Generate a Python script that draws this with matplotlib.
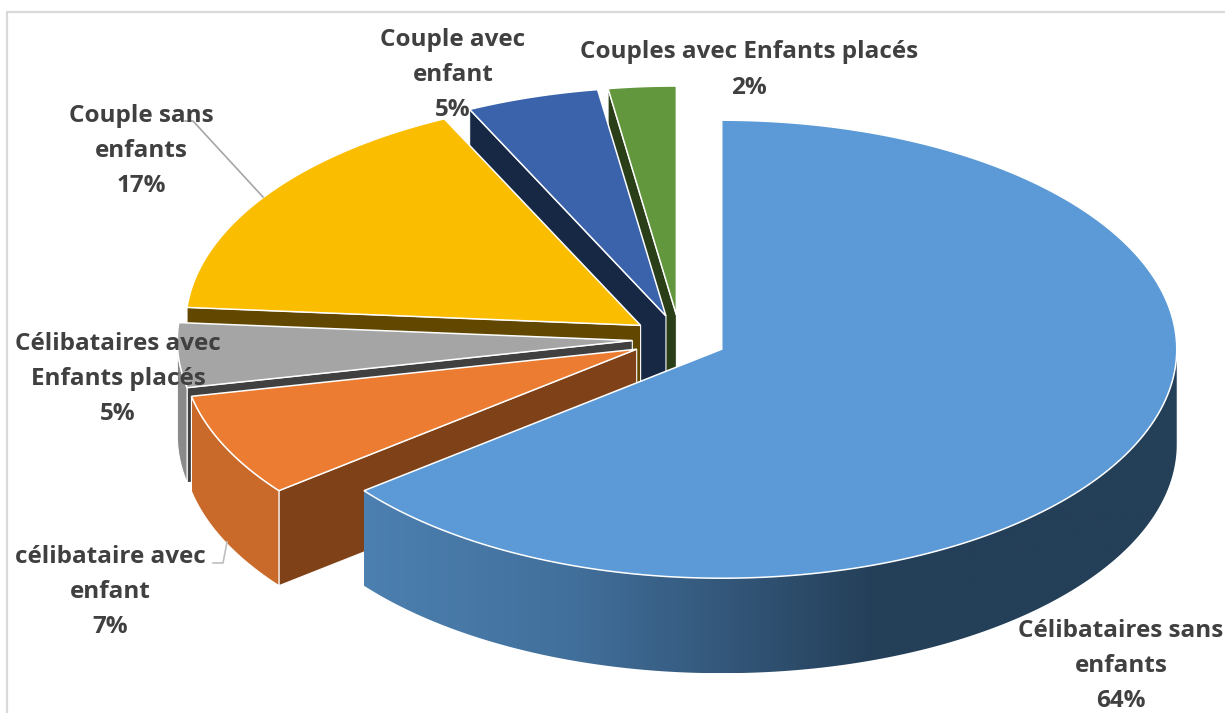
import numpy as np
import matplotlib
matplotlib.use('Agg')
import matplotlib.pyplot as plt
from matplotlib.patches import Polygon
from matplotlib.colors import LinearSegmentedColormap

# data, clockwise from the top of the pie
categories = ['Célibataires sans\nenfants', 'célibataire avec\nenfant', 'Célibataires avec\nEnfants placés',
              'Couple sans\nenfants', 'Couple avec\nenfant', 'Couples avec Enfants placés']
values = [64.4, 7.3, 4.55, 16.65, 4.7, 2.4]

top_colors = ['#5B9AD6', '#EB7C31', '#A5A5A5', '#FBBD00', '#3A63AB', '#62973E']
radial_colors = ['#243F58', '#7F4218', '#404040', '#614700', '#172845', '#2A3F18']
outer_colors = ['#243F58', '#C96A2A', '#8A8A8A', '#614700', '#172845', '#2A3F18']
label_pos = [(1121, 666), (110, 592), (118, 379), (141, 151), (453, 75), (749, 70)]
explode = [0.102, 0.105, 0.105, 0.105, 0.105, 0.105]

# pie geometry in pixels
cx, cy = 680, 339
rx, ry = 455, 229
depth = 95

plt.rcParams['font.family'] = ['Open Sans', 'DejaVu Sans']

fig = plt.figure(figsize=(12.25, 7.13), dpi=100)
ax = fig.add_axes([0, 0, 1, 1])
ax.set_xlim(0, 1225)
ax.set_ylim(713, 0)
ax.axis('off')

# chart frame
ax.plot([7, 7, 1225], [713, 12, 12], color='#D9D9D9', lw=1.6, zorder=1)


def point(theta, ax0, ay0):
    return ax0 + rx * np.sin(theta), ay0 - ry * np.cos(theta)


def draw_wedge(a0, a1, e, top, radial, outer, gradient=False):
    mid = (a0 + a1) / 2
    ax0 = cx + e * rx * np.sin(mid)
    ay0 = cy - e * ry * np.cos(mid)
    t = np.linspace(a0, a1, 200)
    xs, ys = point(t, ax0, ay0)

    # radial walls that face the viewer
    for a, facing in ((a0, -np.sin(a0)), (a1, np.sin(a1))):
        if facing > 1e-6:
            x1, y1 = point(a, ax0, ay0)
            wall = [(ax0, ay0), (x1, y1), (x1, y1 + depth), (ax0, ay0 + depth)]
            ax.add_patch(Polygon(wall, fc=radial, ec='white', lw=0.8, zorder=2))

    # outer wall, only the part below the widest point of the ellipse
    lo, hi = max(a0, np.pi / 2), min(a1, 3 * np.pi / 2)
    if hi > lo:
        t2 = np.linspace(lo, hi, 200)
        x2, y2 = point(t2, ax0, ay0)
        pts = np.r_[np.c_[x2, y2], np.c_[x2, y2 + depth][::-1]]
        if gradient:
            cmap = LinearSegmentedColormap.from_list('wall', [(0, '#4C80B0'), (0.25, '#42709C'),
                                                              (0.5, '#2F5070'), (0.63, outer), (1, outer)])
            im = ax.imshow(np.linspace(0, 1, 512).reshape(1, -1), cmap=cmap, aspect='auto',
                           extent=(x2.min(), x2.max(), y2.max() + depth, y2.min()), zorder=2)
            pg = Polygon(pts, fc='none', ec='none', transform=ax.transData)
            ax.add_patch(pg)
            im.set_clip_path(pg)
            ax.set_xlim(0, 1225)
            ax.set_ylim(713, 0)
        else:
            ax.add_patch(Polygon(pts, fc=outer, ec='white', lw=0.8, zorder=2))

    # top face
    face = np.r_[[[ax0, ay0]], np.c_[xs, ys]]
    ax.add_patch(Polygon(face, fc=top, ec='white', lw=1.1, zorder=2))


# back wedges first: walk the slices from the last one to the first
fractions = np.array(values) / sum(values)
ends = np.cumsum(fractions) * 2 * np.pi
starts = ends - fractions * 2 * np.pi
for i in range(len(values) - 1, 0, -1):
    draw_wedge(starts[i], ends[i], explode[i], top_colors[i], radial_colors[i], outer_colors[i])
draw_wedge(starts[0], ends[0], explode[0], top_colors[0], radial_colors[0], outer_colors[0], gradient=True)

# leader lines
ax.plot([185, 193, 263], [121, 121, 197], color='#A6A6A6', lw=1.2, zorder=3)
ax.plot([213, 223, 227], [563, 563, 542], color='#BFBFBF', lw=1.2, zorder=3)

for name, v, (x, y) in zip(categories, values, label_pos):
    ax.text(x, y, f'{name}\n{v:.0f}%', ha='center', va='center', fontsize=17.5, fontweight='bold',
            color='#404040', linespacing=1.62, zorder=4)

fig.savefig('out.png', dpi=100)
